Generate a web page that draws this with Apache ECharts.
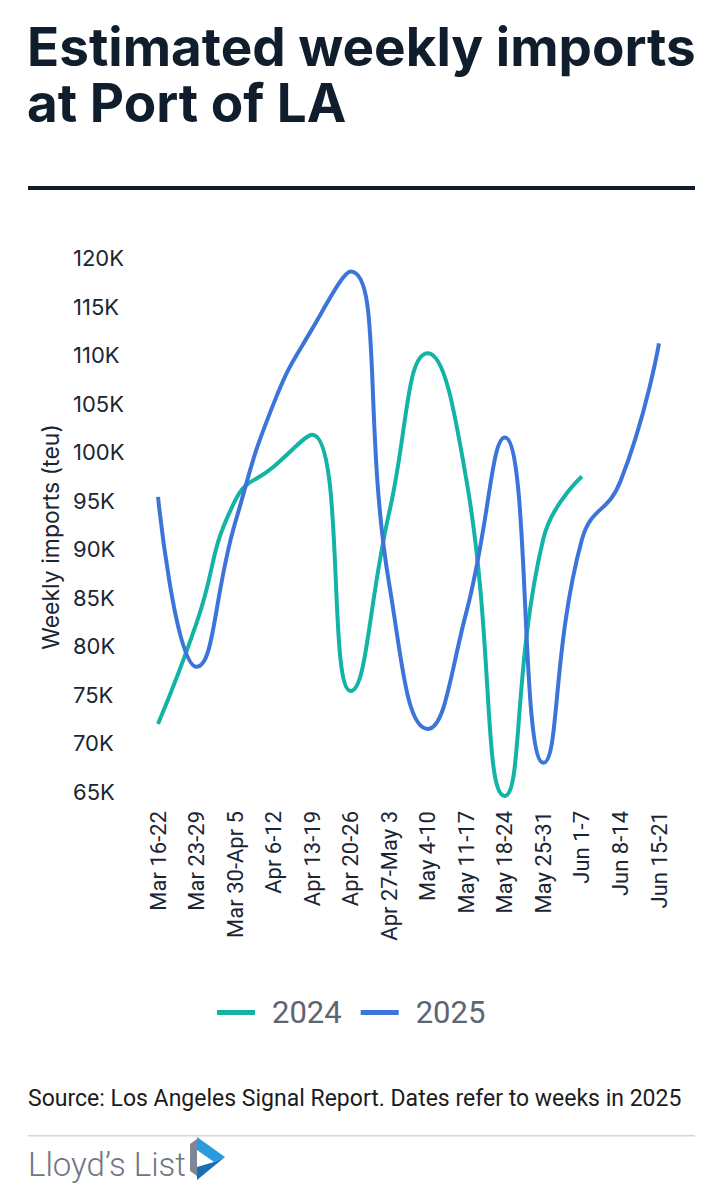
<!DOCTYPE html>
<html>
<head>
<meta charset="utf-8">
<script src="https://cdn.jsdelivr.net/npm/echarts@6/dist/echarts.min.js"></script>
<style>
html,body{margin:0;padding:0;background:#fff;}
#chart{width:723px;height:1200px;}
</style>
</head>
<body>
<div id="chart"></div>
<script>
const categories = ["Mar 16-22","Mar 23-29","Mar 30-Apr 5","Apr 6-12","Apr 13-19","Apr 20-26","Apr 27-May 3","May 4-10","May 11-17","May 18-24","May 25-31","Jun 1-7","Jun 8-14","Jun 15-21"];
const imports2024 = [72000, 82400, 95000, 98500, 101800, 75400, 93800, 110200, 97200, 64600, 91100, 97500, null, null];
const imports2025 = [95400, 77900, 92700, 105000, 112700, 118600, 86400, 71500, 83500, 101500, 68000, 91000, 97000, 111200];
const yTicks = {min: 65000, max: 120000, interval: 5000};
const titleLine1 = "Estimated weekly imports";
const titleLine2 = "at Port of LA";
const sourceText = "Source: Los Angeles Signal Report. Dates refer to weeks in 2025";

const chart = echarts.init(document.getElementById('chart'), null, {renderer: 'svg', width: 723, height: 1200});
const dark = '#0f1d2c';
const axisText = '#1b2533';
chart.setOption({
  backgroundColor: '#ffffff',
  animation: false,
  textStyle: {fontFamily: 'Roboto'},
  legend: {
    top: 992, left: 212,
    icon: 'rect', itemWidth: 38, itemHeight: 5, itemGap: 19,
    textStyle: {fontSize: 31, color: '#5e6572', fontFamily: 'Roboto', padding: [0,0,0,12]},
    data: ['2024','2025']
  },
  grid: {left: 158, right: 64, top: 258, bottom: 408, containLabel: false},
  xAxis: {
    type: 'category', data: categories, boundaryGap: false,
    axisLine: {show: false}, axisTick: {show: false}, splitLine: {show: false},
    axisLabel: {rotate: 90, margin: 19, fontSize: 22, color: axisText, fontFamily: 'Roboto', interval: 0}
  },
  yAxis: {
    type: 'value', min: yTicks.min, max: yTicks.max, interval: yTicks.interval,
    axisLine: {show: false}, axisTick: {show: false}, splitLine: {show: false},
    axisLabel: {align: 'left', margin: 85, fontSize: 22, color: axisText, fontFamily: 'Inter',
      formatter: v => (v/1000) + 'K'},
    name: 'Weekly imports (teu)', nameLocation: 'middle', nameGap: 96,
    nameTextStyle: {fontSize: 23, color: axisText, fontFamily: 'Inter', padding: [0, 24, 0, 0]}
  },
  series: [
    {name: '2024', type: 'line', data: imports2024, smooth: 0.5, showSymbol: false, symbol: 'none', clip: false,
      lineStyle: {width: 4, color: '#13b3a6'}, itemStyle: {color: '#13b3a6'}},
    {name: '2025', type: 'line', data: imports2025, smooth: 0.5, showSymbol: false, symbol: 'none', clip: false,
      lineStyle: {width: 4, color: '#3c74da'}, itemStyle: {color: '#3c74da'}}
  ],
  graphic: [
    {type: 'text', left: 27, top: 20, style: {text: titleLine1, fontSize: 53, lineHeight: 53, fontWeight: 700, fill: dark, fontFamily: 'Inter'}},
    {type: 'text', left: 27, top: 76, style: {text: titleLine2, fontSize: 53, lineHeight: 53, fontWeight: 700, fill: dark, fontFamily: 'Inter'}},
    {type: 'rect', shape: {x: 28, y: 186, width: 667, height: 4}, style: {fill: dark}},
    {type: 'text', left: 28, top: 1087, style: {text: sourceText, fontSize: 23, fill: '#1c1c1c', fontFamily: 'Roboto'}},
    {type: 'rect', shape: {x: 28, y: 1135, width: 667, height: 1.5}, style: {fill: '#d6d6d6'}},
    {type: 'text', left: 28, top: 1148, style: {text: 'Lloyd\u2019s List', fontSize: 33, fill: '#6f7682', fontFamily: 'Liberation Sans Narrow, Roboto', fontWeight: 300}},
    {type: 'polygon', shape: {points: [[190,1144],[197,1139],[197,1176],[190,1171]]}, style: {fill: '#7d8797'}},
    {type: 'polygon', shape: {points: [[197,1137],[225,1157],[214,1162],[197,1150]]}, style: {fill: '#2c9bdc'}},
    {type: 'polygon', shape: {points: [[225,1157],[197,1180],[197,1167],[214,1162]]}, style: {fill: '#1b6db4'}}
  ]
});
</script>
</body>
</html>
